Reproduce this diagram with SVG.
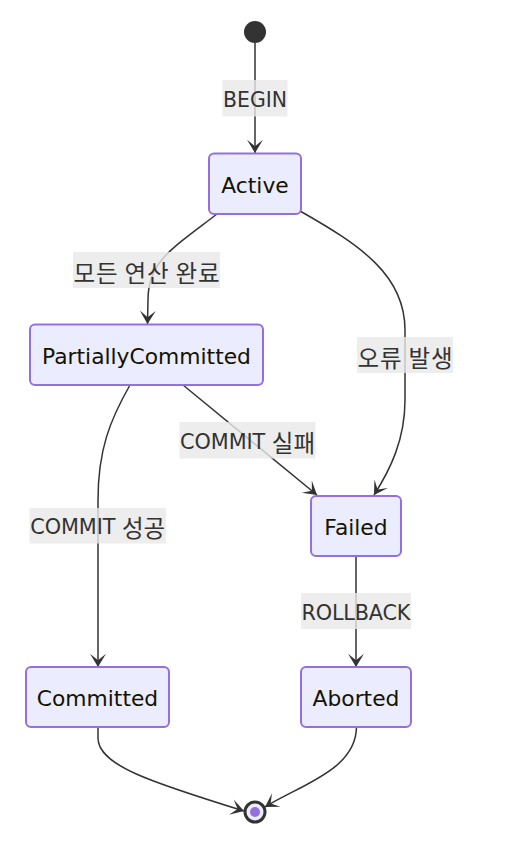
<svg xmlns="http://www.w3.org/2000/svg" width="513" height="851" viewBox="0 0 513 851">
<defs>
<style>
.node rect{fill:#ECECFF;stroke:#9370DB;stroke-width:2}
.node text{fill:#131300;font-family:"DejaVu Sans","Noto Sans CJK KR",sans-serif;font-size:21.8px;text-anchor:middle;dominant-baseline:central}
.edge{fill:none;stroke:#333;stroke-width:1.5}
.lbl rect{fill:rgba(232,232,232,0.8)}
.lbl text{fill:#333;font-family:"DejaVu Sans","Noto Sans CJK KR",sans-serif;font-size:20.8px;text-anchor:middle;dominant-baseline:central}
.ko{font-family:"Noto Sans CJK KR",sans-serif;font-size:23.5px}
</style>
<marker id="barb" viewBox="0 0 20 14" refX="19" refY="7" markerWidth="26.6" markerHeight="18.6" markerUnits="userSpaceOnUse" orient="auto">
<path d="M 19,7 L9,13 L14,7 L9,1 Z" fill="#333"/>
</marker>
</defs>
<rect width="513" height="851" fill="#fff"/>
<g id="connectors">
<path class="edge" d="M255,43 L255,153" marker-end="url(#barb)"/>
<path class="edge" d="M217,214 C170,250 148,262 148,300 L147.5,324" marker-end="url(#barb)"/>
<path class="edge" d="M300,211 C360,245 405,275 405,330 L405,400 C405,440 390,470 374,495" marker-end="url(#barb)"/>
<path class="edge" d="M130,385 C110,420 98,450 98,500 L98,667" marker-end="url(#barb)"/>
<path class="edge" d="M183,385 L317,495" marker-end="url(#barb)"/>
<path class="edge" d="M356,556 L356,667" marker-end="url(#barb)"/>
<path class="edge" d="M98,727 L98,738 C98,765 150,782 244,811" marker-end="url(#barb)"/>
<path class="edge" d="M356.5,727 C356,770 300,785 265,807" marker-end="url(#barb)"/>
</g>
<g id="labels">
<g class="lbl"><rect x="222.5" y="80" width="65" height="36.5"/><text x="255" y="99.8" textLength="64" lengthAdjust="spacingAndGlyphs">BEGIN</text></g>
<g class="lbl"><rect x="73" y="252" width="147" height="36"/><text x="146.5" y="271.5" textLength="146"><tspan class="ko">모든 연산 완료</tspan></text></g>
<g class="lbl"><rect x="357" y="337" width="96" height="36"/><text x="405" y="356.5" textLength="95"><tspan class="ko">오류 발생</tspan></text></g>
<g class="lbl"><rect x="179.5" y="422" width="136" height="36.5"/><text x="247.5" y="441.8" textLength="135">COMMIT <tspan class="ko">실패</tspan></text></g>
<g class="lbl"><rect x="29.5" y="508" width="136.5" height="35.5"/><text x="97.7" y="527.3" textLength="135">COMMIT <tspan class="ko">성공</tspan></text></g>
<g class="lbl"><rect x="301" y="593" width="110" height="36"/><text x="356" y="612.5" textLength="109">ROLLBACK</text></g>
</g>
<g id="start"><circle cx="255" cy="32" r="11" fill="#333"/></g>
<g id="Active" class="node"><rect x="209" y="153.5" width="92" height="60.5" rx="5"/><text x="255" y="185">Active</text></g>
<g id="PartiallyCommitted" class="node"><rect x="30" y="324.5" width="233" height="60.5" rx="5"/><text x="146.5" y="356">PartiallyCommitted</text></g>
<g id="Failed" class="node"><rect x="311" y="496" width="90" height="60" rx="5"/><text x="356" y="527">Failed</text></g>
<g id="Committed" class="node"><rect x="26" y="667" width="143" height="60" rx="5"/><text x="97.5" y="698">Committed</text></g>
<g id="Aborted" class="node"><rect x="301" y="667" width="110" height="60" rx="5"/><text x="356" y="698">Aborted</text></g>
<g id="end"><circle cx="255" cy="812" r="10" fill="#ECECFF" stroke="#333" stroke-width="3"/><circle cx="255" cy="812" r="5" fill="#9370DB"/></g>
</svg>
